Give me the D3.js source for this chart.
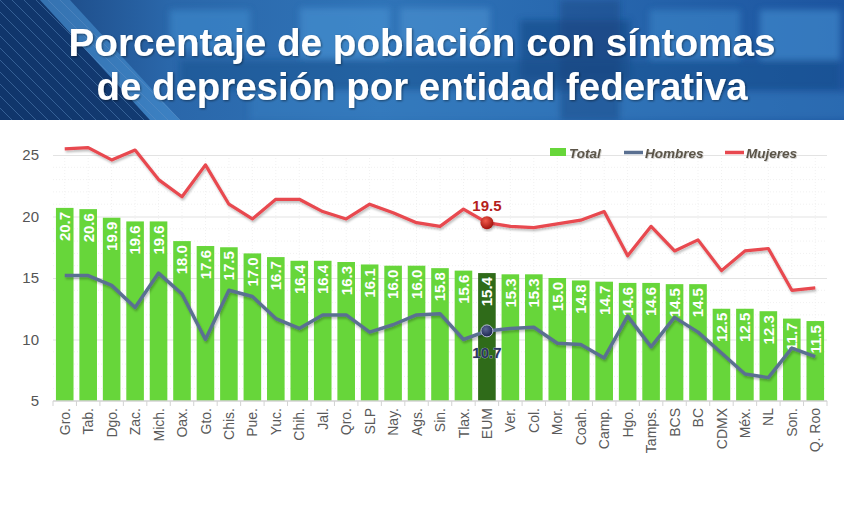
<!DOCTYPE html>
<html><head><meta charset="utf-8">
<script src="https://cdn.jsdelivr.net/npm/d3@7/dist/d3.min.js"></script>
<style>html,body{margin:0;padding:0;background:#fff;}svg{display:block;font-family:"Liberation Sans",Arial,sans-serif;}</style>
</head><body><svg id="c" width="844" height="507"></svg>
<script>
const categories = ["Gro.","Tab.","Dgo.","Zac.","Mich.","Oax.","Gto.","Chis.","Pue.","Yuc.","Chih.","Jal.","Qro.","SLP","Nay.","Ags.","Sin.","Tlax.","EUM","Ver.","Col.","Mor.","Coah.","Camp.","Hgo.","Tamps.","BCS","BC","CDMX","Méx.","NL","Son.","Q. Roo"];
const total = [20.7,20.6,19.9,19.6,19.6,18.0,17.6,17.5,17.0,16.7,16.4,16.4,16.3,16.1,16.0,16.0,15.8,15.6,15.4,15.3,15.3,15.0,14.8,14.7,14.6,14.6,14.5,14.5,12.5,12.5,12.3,11.7,11.5];
const hombres = [15.2,15.2,14.4,12.6,15.4,13.7,10.0,14.0,13.5,11.7,10.9,12.0,12.0,10.6,11.2,12.0,12.1,10.0,10.7,10.9,11.0,9.7,9.6,8.5,11.9,9.4,11.8,10.6,8.9,7.2,6.9,9.3,8.6];
const mujeres = [25.5,25.6,24.6,25.4,23.0,21.6,24.2,21.0,19.8,21.4,21.4,20.4,19.8,21.0,20.3,19.5,19.2,20.6,19.5,19.2,19.1,19.4,19.7,20.4,16.8,19.2,17.2,18.1,15.6,17.2,17.4,14.0,14.2];
const yTicks = [5,10,15,20,25];
const titleLines = ["Porcentaje de población con síntomas","de depresión por entidad federativa"];
const legendLabels = ["Total","Hombres","Mujeres"];
const highlight = "EUM";

const svg = d3.select("#c");
const defs = svg.append("defs");

// Header background
const hg = defs.append("linearGradient").attr("id","hg").attr("x1","0").attr("x2","1").attr("y1","0").attr("y2","0");
[["0","#173f78"],["0.2","#2a67aa"],["0.45","#3074b8"],["0.7","#2767ae"],["1","#1d55a0"]].forEach(s=>hg.append("stop").attr("offset",s[0]).attr("stop-color",s[1]));
const blur = defs.append("filter").attr("id","bl").attr("x","-20%").attr("y","-20%").attr("width","140%").attr("height","140%");
blur.append("feGaussianBlur").attr("stdDeviation",3);
const sh = defs.append("filter").attr("id","sh").attr("x","-5%").attr("y","-20%").attr("width","110%").attr("height","140%");
sh.append("feDropShadow").attr("dx",1).attr("dy",2).attr("stdDeviation",1.2).attr("flood-color","#000").attr("flood-opacity",0.25);
const tsh = defs.append("filter").attr("id","tsh").attr("x","-5%").attr("y","-20%").attr("width","110%").attr("height","140%");
tsh.append("feDropShadow").attr("dx",1).attr("dy",1).attr("stdDeviation",1).attr("flood-color","#000").attr("flood-opacity",0.45);
const lsh = defs.append("filter").attr("id","lsh").attr("x","-5%").attr("y","-20%").attr("width","110%").attr("height","140%");
lsh.append("feDropShadow").attr("dx",0.8).attr("dy",0.8).attr("stdDeviation",0.6).attr("flood-color","#000").attr("flood-opacity",0.2);
const clip = defs.append("clipPath").attr("id","hc");
clip.append("rect").attr("width",844).attr("height",120);

const head = svg.append("g").attr("clip-path","url(#hc)");
head.append("rect").attr("width",844).attr("height",120).attr("fill","url(#hg)");
const blobs = head.append("g").attr("filter","url(#bl)");
[[170,10,80,40,"#3d86c9",0.7],[300,8,90,50,"#4a92d2",0.6],[400,8,90,40,"#4e95d4",0.55],[520,20,110,60,"#184a86",0.6],[650,10,90,50,"#3e86c8",0.6],[760,10,80,50,"#3f88cb",0.7],[180,60,660,30,"#1c4f8c",0.5],[250,92,600,28,"#3a80c2",0.5],[560,0,60,120,"#163f78",0.4]].forEach(b=>{
  blobs.append("rect").attr("x",b[0]).attr("y",b[1]).attr("width",b[2]).attr("height",b[3]).attr("fill",b[4]).attr("opacity",b[5]);
});
head.append("path").attr("d","M0,0 L40,0 L150,120 L0,120 Z").attr("fill","#0f3468").attr("opacity",0.85);
head.append("path").attr("d","M40,0 L70,0 L180,120 L150,120 Z").attr("fill","#4b95d6").attr("opacity",0.55);
const stripes = head.append("g").attr("stroke","#5f8fc4").attr("stroke-width",0.8).attr("opacity",0.6);
for (let i=-12;i<6;i++){ stripes.append("line").attr("x1",i*12).attr("y1",0).attr("x2",i*12+120).attr("y2",120); }

const tt = svg.append("g").attr("fill","#fff").attr("font-weight","bold").attr("font-size",39.5).attr("text-anchor","middle").attr("filter","url(#tsh)");
tt.append("text").attr("x",422).attr("y",56).attr("textLength",707).attr("lengthAdjust","spacingAndGlyphs").text(titleLines[0]);
tt.append("text").attr("x",422).attr("y",100).attr("textLength",651).attr("lengthAdjust","spacingAndGlyphs").text(titleLines[1]);

// Scales
const x = d3.scaleBand().domain(categories).range([53,827]).paddingInner(0.25).paddingOuter(0.125);
const y = d3.scaleLinear().domain([5,25]).range([401,155]);
const cx = c => x(c) + x.bandwidth()/2;

// minor grid
const mg = svg.append("g").attr("stroke","#f1f1f1").attr("stroke-width",1).attr("stroke-dasharray","1,2");
d3.range(6,26).forEach(v=>{ if (v%5) mg.append("line").attr("x1",53).attr("x2",827).attr("y1",y(v)).attr("y2",y(v)); });
categories.forEach(c=>mg.append("line").attr("x1",cx(c)).attr("x2",cx(c)).attr("y1",y(25)).attr("y2",y(5)));

// y grid + axis
const yAxis = svg.append("g").attr("transform","translate(53,0)")
  .call(d3.axisLeft(y).tickValues(yTicks).tickSize(-774).tickPadding(14).tickFormat(d3.format("d")));
yAxis.select(".domain").remove();
yAxis.selectAll(".tick line").attr("stroke",d=>d===5?"none":"#e3e3e3");
yAxis.selectAll(".tick text").attr("fill","#555").attr("font-size",15).attr("font-family","Liberation Sans, Arial, sans-serif");

// bars
svg.append("g").selectAll("rect").data(categories).join("rect")
  .attr("x",d=>x(d)).attr("width",x.bandwidth())
  .attr("y",(d,i)=>y(total[i])).attr("height",(d,i)=>y(5)-y(total[i]))
  .attr("fill",d=>d===highlight?"#2f6b19":"#67d63a");

// bar labels
svg.append("g").selectAll("text").data(categories).join("text")
  .attr("transform",(d,i)=>`translate(${cx(d)},${y(total[i])+4}) rotate(-90)`)
  .attr("dy","0.36em").attr("text-anchor","end")
  .attr("fill","#fff").attr("font-weight","bold").attr("font-size",15)
  .text((d,i)=>total[i].toFixed(1));

// x axis
const xAxis = svg.append("g").attr("transform","translate(0,401)");
xAxis.append("line").attr("x1",53).attr("x2",827).attr("stroke","#d3d3d3").attr("stroke-width",1.5);
xAxis.selectAll("line.t").data(d3.range(categories.length+1)).join("line").attr("class","t")
  .attr("x1",i=>53+i*x.step()).attr("x2",i=>53+i*x.step()).attr("y1",0).attr("y2",5).attr("stroke","#d3d3d3");
xAxis.selectAll("text").data(categories).join("text")
  .attr("transform",d=>`translate(${cx(d)},7) rotate(-90)`)
  .attr("dy","0.36em").attr("text-anchor","end")
  .attr("fill","#5a5a5a").attr("font-size",14)
  .text(d=>d);

// lines
const line = d3.line().x(d=>cx(d[0])).y(d=>y(d[1]));
svg.append("path").datum(categories.map((c,i)=>[c,hombres[i]])).attr("d",line)
  .attr("fill","none").attr("stroke","#5a7091").attr("stroke-width",3.5).attr("stroke-linejoin","round").attr("filter","url(#sh)");
svg.append("path").datum(categories.map((c,i)=>[c,mujeres[i]])).attr("d",line)
  .attr("fill","none").attr("stroke","#e8484f").attr("stroke-width",3.2).attr("stroke-linejoin","round").attr("filter","url(#sh)");

// highlight markers
const hi = categories.indexOf(highlight);
const rg = defs.append("radialGradient").attr("id","rg").attr("cx","40%").attr("cy","35%").attr("r","65%");
rg.append("stop").attr("offset","0").attr("stop-color","#f25a4a");
rg.append("stop").attr("offset","1").attr("stop-color","#a3140f");
const bg = defs.append("radialGradient").attr("id","bg").attr("cx","40%").attr("cy","35%").attr("r","65%");
bg.append("stop").attr("offset","0").attr("stop-color","#5a6694");
bg.append("stop").attr("offset","1").attr("stop-color","#1d2650");
svg.append("circle").attr("cx",cx(highlight)).attr("cy",y(mujeres[hi])).attr("r",6.5).attr("fill","url(#rg)").attr("filter","url(#sh)");
svg.append("circle").attr("cx",cx(highlight)).attr("cy",y(hombres[hi])).attr("r",6).attr("fill","url(#bg)").attr("stroke","#b9c0d6").attr("stroke-width",1);
svg.append("text").attr("x",cx(highlight)).attr("y",y(mujeres[hi])-12).attr("text-anchor","middle")
  .attr("fill","#b5201b").attr("font-weight","bold").attr("font-size",15).text(mujeres[hi].toFixed(1));
svg.append("text").attr("x",cx(highlight)).attr("y",y(hombres[hi])+27).attr("text-anchor","middle")
  .attr("fill","#2b3562").attr("font-weight","bold").attr("font-size",15).attr("stroke","#c8cde0").attr("stroke-width",0.6).attr("paint-order","stroke").text(hombres[hi].toFixed(1));

// legend
const lg = svg.append("g").attr("font-weight","bold").attr("font-style","italic").attr("font-size",13.5).attr("fill","#5b5549");
lg.append("rect").attr("x",550).attr("y",148).attr("width",16).attr("height",8).attr("fill","#67d63a");
lg.append("text").attr("x",569).attr("y",158).attr("filter","url(#lsh)").text(legendLabels[0]);
lg.append("line").attr("x1",624).attr("x2",643).attr("y1",152.5).attr("y2",152.5).attr("stroke","#5a7091").attr("stroke-width",3.5);
lg.append("text").attr("x",645).attr("y",158).attr("filter","url(#lsh)").text(legendLabels[1]);
lg.append("line").attr("x1",725).attr("x2",744).attr("y1",152.5).attr("y2",152.5).attr("stroke","#e8484f").attr("stroke-width",3.5);
lg.append("text").attr("x",746).attr("y",158).attr("filter","url(#lsh)").text(legendLabels[2]);
</script></body></html>
